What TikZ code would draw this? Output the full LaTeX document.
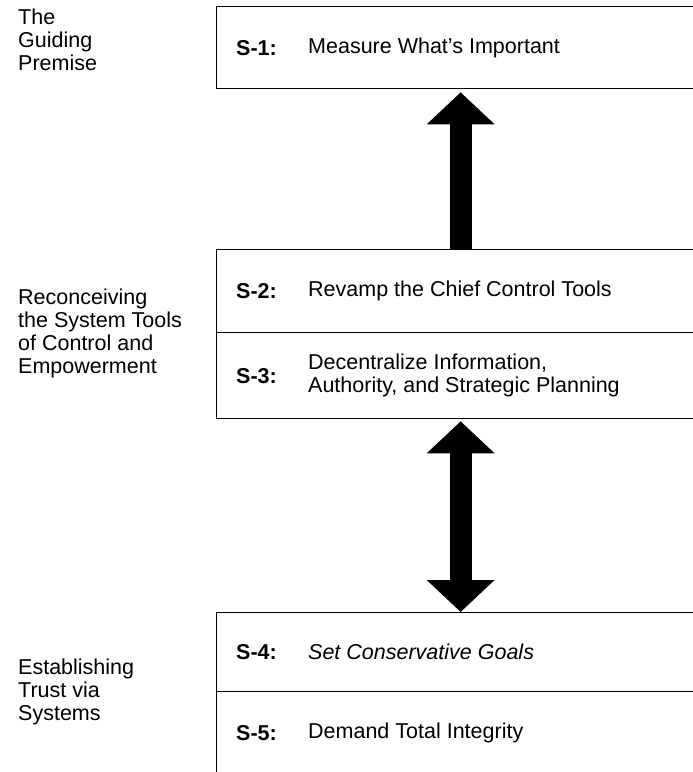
\documentclass[tikz,border=0pt]{standalone}
\usepackage{fontspec}
\setmainfont{Liberation Sans}
\usetikzlibrary{arrows.meta}
\newcommand\rowfont{\fontsize{21.5}{23}\selectfont}
\tikzset{
    row/.style={draw, line width=1.3pt, minimum width=488pt, minimum height=82pt,
    	anchor=north west, inner sep=0pt}
}
\tikzset{
    tag/.style={anchor=west, inner sep=0pt, font=\rowfont\bfseries},
    txt/.style={anchor=west, align=left, inner sep=0pt, font=\rowfont},
    side/.style={anchor=west, align=left, inner sep=0pt, font=\rowfont}
}
\tikzset{
    fat/.style={line width=22pt, -{Triangle[width=66pt,length=32pt]}},
    fatboth/.style={line width=22pt,
    	{Triangle[width=66pt,length=32pt]}-{Triangle[width=66pt,length=32pt]}}
}

\begin{document}
\begin{tikzpicture}[x=1pt, y=-1pt]
	\clip (0,0) rectangle (693,772);
	\node (s1) [row] at (216,6) {};
	\node (s2) [row, minimum height=83pt] at (216,249) {};
	\node (s3) [row, minimum height=86pt] at (216,332) {};
	\node (s4) [row, minimum height=79pt] at (216,612) {};
	\node (s5) [row, minimum height=90pt] at (216,691) {};

	\node (t1) [tag] at ([xshift=20pt]s1.west) {S-1:};
	\node (t2) [tag] at ([xshift=20pt]s2.west) {S-2:};
	\node (t3) [tag] at ([xshift=20pt]s3.west) {S-3:};
	\node (t4) [tag] at ([xshift=20pt]s4.west) {S-4:};
	\node (t5) [tag] at ([xshift=20pt,yshift=4pt]s5.west) {S-5:};

	\node (d1) [txt] at ([xshift=92pt]s1.west) {Measure What's Important};
	\node (d2) [txt] at ([xshift=92pt]s2.west) {Revamp the Chief Control Tools};
	\node (d3) [txt] at ([xshift=92pt]s3.west) {Decentralize Information,\\Authority, and Strategic Planning};
	\node (d4) [txt] at ([xshift=92pt]s4.west) {\itshape Set Conservative Goals};
	\node (d5) [txt] at ([xshift=92pt,yshift=4pt]s5.west) {Demand Total Integrity};

	\node (g1) [side] at (18,40) {The\\Guiding\\Premise};
	\node (g2) [side] at (18,333) {Reconceiving\\the System Tools\\of Control and\\Empowerment};
	\node (g3) [side] at (18,692) {Establishing\\Trust via\\Systems};

	\draw[fat] (s2.north) -- ([yshift=-3pt]s1.south);
	\draw[fatboth] ([yshift=-2pt]s3.south) -- (s4.north);
\end{tikzpicture}
\end{document}
